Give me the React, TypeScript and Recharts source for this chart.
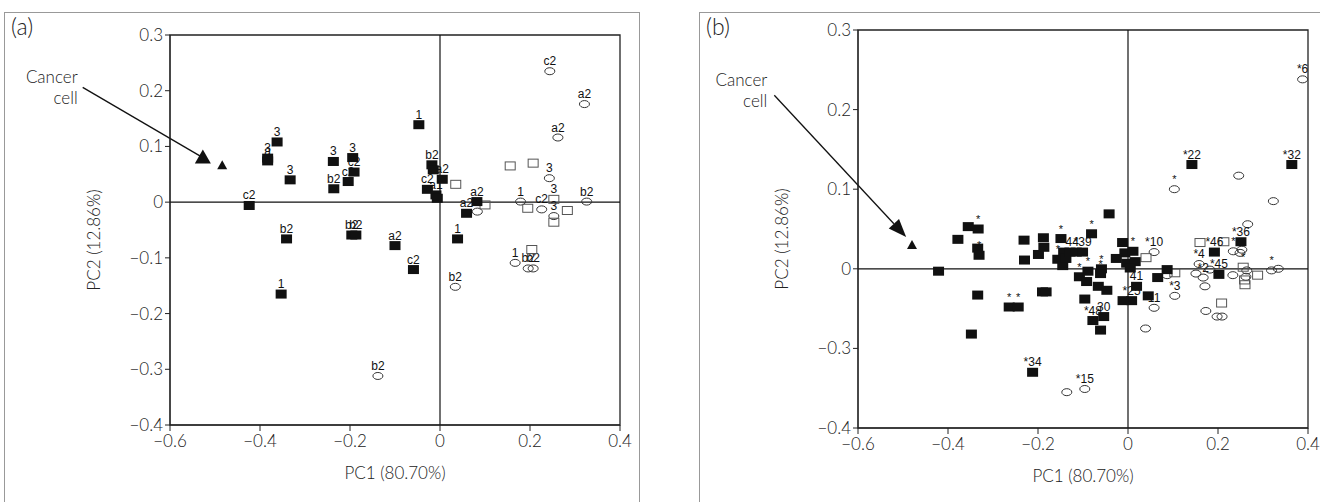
import React from 'react';
import { ScatterChart, Scatter, XAxis, YAxis, ReferenceLine, ReferenceArea } from 'recharts';

type Pt = { x: number; y: number; label?: string };

// shared axis ticks
const xTicks = [-0.6, -0.4, -0.2, 0, 0.2, 0.4];
const yTicksA = [0.3, 0.2, 0.1, 0, -0.1, -0.2, -0.3, -0.4];
// panel (b) is printed with these labels on evenly spaced ticks
const yTicksB = [0.3, 0.2, 0.1, 0, -0.1, -0.2];
const yTickLabelsB = ['0.3', '0.2', '0.1', '0', '\u22120.3', '\u22120.4'];

// ---- panel (a) ----
const aFilled: Pt[] = [
  { x: -0.424, y: -0.006, label: 'c2' },
  { x: -0.383, y: 0.079, label: '3' },
  { x: -0.383, y: 0.074, label: 'a' },
  { x: -0.362, y: 0.108, label: '3' },
  { x: -0.333, y: 0.040, label: '3' },
  { x: -0.341, y: -0.066, label: 'b2' },
  { x: -0.353, y: -0.165, label: '1' },
  { x: -0.237, y: 0.073, label: '3' },
  { x: -0.236, y: 0.024, label: 'b2' },
  { x: -0.204, y: 0.037, label: 'c2' },
  { x: -0.194, y: 0.080, label: '3' },
  { x: -0.191, y: 0.054, label: 'c2' },
  { x: -0.196, y: -0.059, label: 'b2' },
  { x: -0.187, y: -0.059, label: 'b2' },
  { x: -0.100, y: -0.078, label: 'a2' },
  { x: -0.059, y: -0.121, label: 'c2' },
  { x: -0.047, y: 0.139, label: '1' },
  { x: -0.018, y: 0.067, label: 'b2' },
  { x: -0.015, y: 0.058 },
  { x: 0.005, y: 0.041, label: 'a2' },
  { x: -0.028, y: 0.023, label: 'c2' },
  { x: -0.009, y: 0.013, label: 'a1' },
  { x: -0.006, y: 0.007 },
  { x: 0.039, y: -0.066, label: '1' },
  { x: 0.059, y: -0.020, label: 'a2' },
  { x: 0.082, y: 0.001, label: 'a2' },
];
const aOpenSq: Pt[] = [
  { x: 0.156, y: 0.065 },
  { x: 0.207, y: 0.070 },
  { x: 0.035, y: 0.032 },
  { x: 0.100, y: -0.005 },
  { x: 0.195, y: -0.011 },
  { x: 0.253, y: 0.005, label: '3' },
  { x: 0.253, y: -0.036 },
  { x: 0.283, y: -0.015 },
  { x: 0.204, y: -0.085 },
];
const aCircle: Pt[] = [
  { x: 0.244, y: 0.235, label: 'c2' },
  { x: 0.321, y: 0.176, label: 'a2' },
  { x: 0.262, y: 0.116, label: 'a2' },
  { x: 0.243, y: 0.043, label: '3' },
  { x: 0.179, y: 0.001, label: '1' },
  { x: 0.226, y: -0.013, label: 'c2' },
  { x: 0.253, y: -0.025, label: '3' },
  { x: 0.326, y: 0.001, label: 'b2' },
  { x: 0.083, y: -0.017 },
  { x: 0.167, y: -0.109, label: '1' },
  { x: 0.196, y: -0.119, label: 'b2' },
  { x: 0.207, y: -0.119, label: 'b2' },
  { x: 0.034, y: -0.152, label: 'b2' },
  { x: -0.138, y: -0.312, label: 'b2' },
];
const aCancer: Pt[] = [{ x: -0.484, y: 0.066 }];
const aArrow = [{ x: -0.794, y: 0.206 }, { x: -0.527, y: 0.08 }];

// ---- panel (b) ----
const bFilled: Pt[] = [
  { x: -0.421, y: -0.003 },
  { x: -0.378, y: 0.037 },
  { x: -0.355, y: 0.053 },
  { x: -0.333, y: 0.050, label: '*' },
  { x: -0.334, y: 0.026 },
  { x: -0.331, y: 0.017, label: '*' },
  { x: -0.334, y: -0.033 },
  { x: -0.348, y: -0.082 },
  { x: -0.264, y: -0.048, label: '*' },
  { x: -0.244, y: -0.048, label: '*' },
  { x: -0.231, y: 0.036 },
  { x: -0.230, y: 0.011 },
  { x: -0.199, y: 0.018 },
  { x: -0.188, y: 0.039 },
  { x: -0.187, y: 0.027 },
  { x: -0.190, y: -0.029 },
  { x: -0.182, y: -0.029 },
  { x: -0.212, y: -0.130, label: '*34' },
  { x: -0.149, y: 0.038, label: '*' },
  { x: -0.156, y: 0.012, label: '*' },
  { x: -0.143, y: 0.021 },
  { x: -0.145, y: 0.004 },
  { x: -0.138, y: 0.013 },
  { x: -0.129, y: 0.021, label: '*44' },
  { x: -0.115, y: 0.021 },
  { x: -0.101, y: 0.021, label: '*39' },
  { x: -0.081, y: 0.044, label: '*' },
  { x: -0.042, y: 0.069 },
  { x: -0.108, y: -0.010, label: '*' },
  { x: -0.092, y: -0.016 },
  { x: -0.089, y: -0.003, label: '*' },
  { x: -0.059, y: 0.000, label: '*' },
  { x: -0.061, y: -0.006, label: '*' },
  { x: -0.066, y: -0.022 },
  { x: -0.047, y: -0.027 },
  { x: -0.096, y: -0.038 },
  { x: -0.078, y: -0.065, label: '*48' },
  { x: -0.054, y: -0.060, label: '30' },
  { x: -0.061, y: -0.077 },
  { x: -0.012, y: 0.033 },
  { x: -0.007, y: 0.020 },
  { x: -0.026, y: 0.013 },
  { x: -0.003, y: 0.007 },
  { x: 0.011, y: 0.022, label: '*' },
  { x: 0.016, y: 0.009 },
  { x: 0.005, y: 0.001 },
  { x: 0.019, y: -0.022, label: '41' },
  { x: 0.008, y: -0.040, label: '*25' },
  { x: -0.011, y: -0.040 },
  { x: 0.045, y: -0.034 },
  { x: 0.066, y: -0.011 },
  { x: 0.087, y: -0.001 },
  { x: 0.142, y: 0.131, label: '*22' },
  { x: 0.364, y: 0.131, label: '*32' },
  { x: 0.192, y: 0.021, label: '*46' },
  { x: 0.251, y: 0.034, label: '*36' },
  { x: 0.202, y: -0.007, label: '*45' },
];
const bOpenSq: Pt[] = [
  { x: 0.040, y: 0.014 },
  { x: 0.104, y: -0.005 },
  { x: 0.160, y: 0.033 },
  { x: 0.213, y: 0.034 },
  { x: 0.256, y: 0.002, label: '*' },
  { x: 0.259, y: -0.014 },
  { x: 0.260, y: -0.020 },
  { x: 0.288, y: -0.008 },
  { x: 0.208, y: -0.043 },
];
const bCircle: Pt[] = [
  { x: 0.103, y: 0.100, label: '*' },
  { x: 0.246, y: 0.117 },
  { x: 0.323, y: 0.085 },
  { x: 0.388, y: 0.238, label: '*6' },
  { x: 0.266, y: 0.056 },
  { x: 0.058, y: 0.021, label: '*10' },
  { x: 0.234, y: 0.022, label: '*' },
  { x: 0.253, y: 0.024 },
  { x: 0.249, y: 0.020 },
  { x: 0.158, y: 0.006, label: '*4' },
  { x: 0.151, y: -0.006 },
  { x: 0.167, y: -0.011, label: '*2' },
  { x: 0.171, y: -0.022 },
  { x: 0.182, y: -0.001 },
  { x: 0.233, y: -0.008 },
  { x: 0.264, y: -0.002 },
  { x: 0.262, y: -0.010 },
  { x: 0.319, y: -0.002, label: '*' },
  { x: 0.334, y: 0.000 },
  { x: 0.104, y: -0.034, label: '*3' },
  { x: 0.087, y: -0.008 },
  { x: 0.058, y: -0.049, label: '11' },
  { x: 0.039, y: -0.075 },
  { x: 0.173, y: -0.053 },
  { x: 0.198, y: -0.060 },
  { x: 0.209, y: -0.060 },
  { x: -0.096, y: -0.151, label: '*15' },
  { x: -0.136, y: -0.155 },
];
const bCancer: Pt[] = [{ x: -0.48, y: 0.03 }];
const bArrow = [{ x: -0.786, y: 0.218 }, { x: -0.493, y: 0.04 }];

const INK = '#111';
const TEXT = '#222';
const FONT = 'Lato, "Open Sans", sans-serif';
const PT_FONT = '"Liberation Sans", Arial, sans-serif';

const fmt = (v: number) => (v === 0 ? '0' : (v < 0 ? '\u2212' : '') + Math.abs(v).toFixed(1));

const tickStyle = { fill: TEXT, fontSize: 17, fontFamily: FONT, fontWeight: 300 };

const makeShape = (kind: 'filled' | 'openSq' | 'circle' | 'tri') => (props: any) => {
  const { cx, cy, payload } = props;
  if (cx == null || cy == null) return <g />;
  let mark;
  if (kind === 'filled') {
    mark = <rect x={cx - 5.5} y={cy - 4.5} width={11} height={9} fill={INK} />;
  } else if (kind === 'openSq') {
    mark = <rect x={cx - 5} y={cy - 4} width={10} height={8} fill="none" stroke="#555" strokeWidth={1} />;
  } else if (kind === 'circle') {
    mark = <ellipse cx={cx} cy={cy} rx={5} ry={3.5} fill="none" stroke="#333" strokeWidth={1} />;
  } else {
    mark = <polygon points={`${cx},${cy - 5} ${cx - 5},${cy + 4} ${cx + 5},${cy + 4}`} fill={INK} />;
  }
  const lbl = payload && payload.label;
  return (
    <g>
      {mark}
      {lbl ? (
        <text x={cx} y={cy - 6} textAnchor="middle" fontSize={lbl === '*' ? 11 : 12} fontFamily={PT_FONT} fill={INK}>
          {lbl}
        </text>
      ) : null}
    </g>
  );
};

// arrow from the "Cancer cell" note to the cancer cell point
const makeArrow = (upright: boolean, textDx: number, textDy1: number, textDy2: number) => (props: any) => {
  const { x1, y1, x2, y2 } = props;
  if ([x1, y1, x2, y2].some((v) => v == null || isNaN(v))) return <g />;
  let head;
  let lx2 = x2;
  let ly2 = y2;
  if (upright) {
    head = <polygon points={`${x2},${y2 - 8} ${x2 - 8},${y2 + 6} ${x2 + 8},${y2 + 6}`} fill={INK} />;
  } else {
    const ang = Math.atan2(y2 - y1, x2 - x1);
    const len = 18;
    const w = 7;
    const bx = x2 - len * Math.cos(ang);
    const by = y2 - len * Math.sin(ang);
    const px = -Math.sin(ang) * w;
    const py = Math.cos(ang) * w;
    head = <polygon points={`${x2},${y2} ${bx + px},${by + py} ${bx - px},${by - py}`} fill={INK} />;
    lx2 = bx;
    ly2 = by;
  }
  return (
    <g>
      <line x1={x1} y1={y1} x2={lx2} y2={ly2} stroke={INK} strokeWidth={1.3} />
      {head}
      <text x={x1 + textDx} y={y1 + textDy1} textAnchor="end" fontSize={17} fontFamily={FONT} fontWeight={300} fill={TEXT}>
        Cancer
      </text>
      <text x={x1 + textDx} y={y1 + textDy2} textAnchor="end" fontSize={17} fontFamily={FONT} fontWeight={300} fill={TEXT}>
        cell
      </text>
    </g>
  );
};

const filledShape = makeShape('filled');
const openShape = makeShape('openSq');
const circleShape = makeShape('circle');
const triShape = makeShape('tri');

function Panel(props: {
  width: number;
  margin: { top: number; right: number; bottom: number; left: number };
  yDomain: [number, number];
  yTicks: number[];
  yFmt: (v: number) => string;
  filled: Pt[];
  openSq: Pt[];
  circle: Pt[];
  cancer: Pt[];
  arrow: { x: number; y: number }[];
  arrowShape: (p: any) => React.ReactElement;
}) {
  const { width, margin, yDomain, yTicks, yFmt } = props;
  return (
    <ScatterChart width={width} height={502} margin={margin}>
      <XAxis
        type="number"
        dataKey="x"
        domain={[-0.6, 0.4]}
        ticks={xTicks}
        tickFormatter={fmt}
        height={30}
        tick={tickStyle}
        tickSize={6}
        tickMargin={4}
        stroke="#222"
        label={{ value: 'PC1 (80.70%)', position: 'bottom', offset: 12, style: tickStyle }}
      />
      <YAxis
        type="number"
        dataKey="y"
        domain={yDomain}
        ticks={yTicks}
        tickFormatter={yFmt}
        width={80}
        tick={tickStyle}
        tickSize={5}
        tickMargin={2}
        stroke="#222"
        label={{
          value: 'PC2 (12.86%)',
          angle: -90,
          position: 'insideLeft',
          offset: 4,
          dy: 10,
          style: { ...tickStyle, textAnchor: 'middle' },
        }}
      />
      <ReferenceArea x1={-0.6} x2={0.4} y1={yDomain[0]} y2={yDomain[1]} fill="none" fillOpacity={0} stroke="#222" strokeWidth={1.3} />
      <ReferenceLine x={0} stroke={INK} strokeWidth={1.2} />
      <ReferenceLine y={0} stroke={INK} strokeWidth={1.2} />
      <Scatter data={props.circle} shape={circleShape} isAnimationActive={false} />
      <Scatter data={props.openSq} shape={openShape} isAnimationActive={false} />
      <Scatter data={props.filled} shape={filledShape} isAnimationActive={false} />
      <Scatter data={props.cancer} shape={triShape} isAnimationActive={false} />
      <ReferenceLine
        segment={props.arrow}
        ifOverflow="visible"
        stroke={INK}
        shape={props.arrowShape}
      />
    </ScatterChart>
  );
}

const frame = { position: 'absolute' as const, border: '1.5px solid #999' };
const tag = {
  position: 'absolute' as const,
  fontFamily: FONT,
  fontWeight: 300,
  fontSize: 23,
  color: TEXT,
  lineHeight: '26px',
};

export default function App() {
  const yFmtB = (v: number) => {
    const i = yTicksB.findIndex((t) => Math.abs(t - v) < 1e-9);
    return i >= 0 ? yTickLabelsB[i] : fmt(v);
  };
  return (
    <div style={{ position: 'absolute', left: 0, top: 0, width: 1320, height: 502, overflow: 'hidden', background: '#fff' }}>
      <div style={{ ...frame, left: 4, top: 12, width: 634, height: 520 }} />
      <div style={{ ...frame, left: 699, top: 12, width: 700, height: 520 }} />
      <div style={{ ...tag, left: 11, top: 13 }}>(a)</div>
      <div style={{ ...tag, left: 706, top: 13 }}>(b)</div>
      <div style={{ position: 'absolute', left: 0, top: 0 }}>
        <Panel
          width={640}
          margin={{ top: 35, right: 20, bottom: 47, left: 90 }}
          yDomain={[-0.4, 0.3]}
          yTicks={yTicksA}
          yFmt={fmt}
          filled={aFilled}
          openSq={aOpenSq}
          circle={aCircle}
          cancer={aCancer}
          arrow={aArrow}
          arrowShape={makeArrow(true, -5, -4, 17)}
        />
      </div>
      <div style={{ position: 'absolute', left: 660, top: 0 }}>
        <Panel
          width={660}
          margin={{ top: 30, right: 12, bottom: 44, left: 118 }}
          yDomain={[-0.2, 0.3]}
          yTicks={yTicksB}
          yFmt={yFmtB}
          filled={bFilled}
          openSq={bOpenSq}
          circle={bCircle}
          cancer={bCancer}
          arrow={bArrow}
          arrowShape={makeArrow(false, -7, -9, 12)}
        />
      </div>
    </div>
  );
}
